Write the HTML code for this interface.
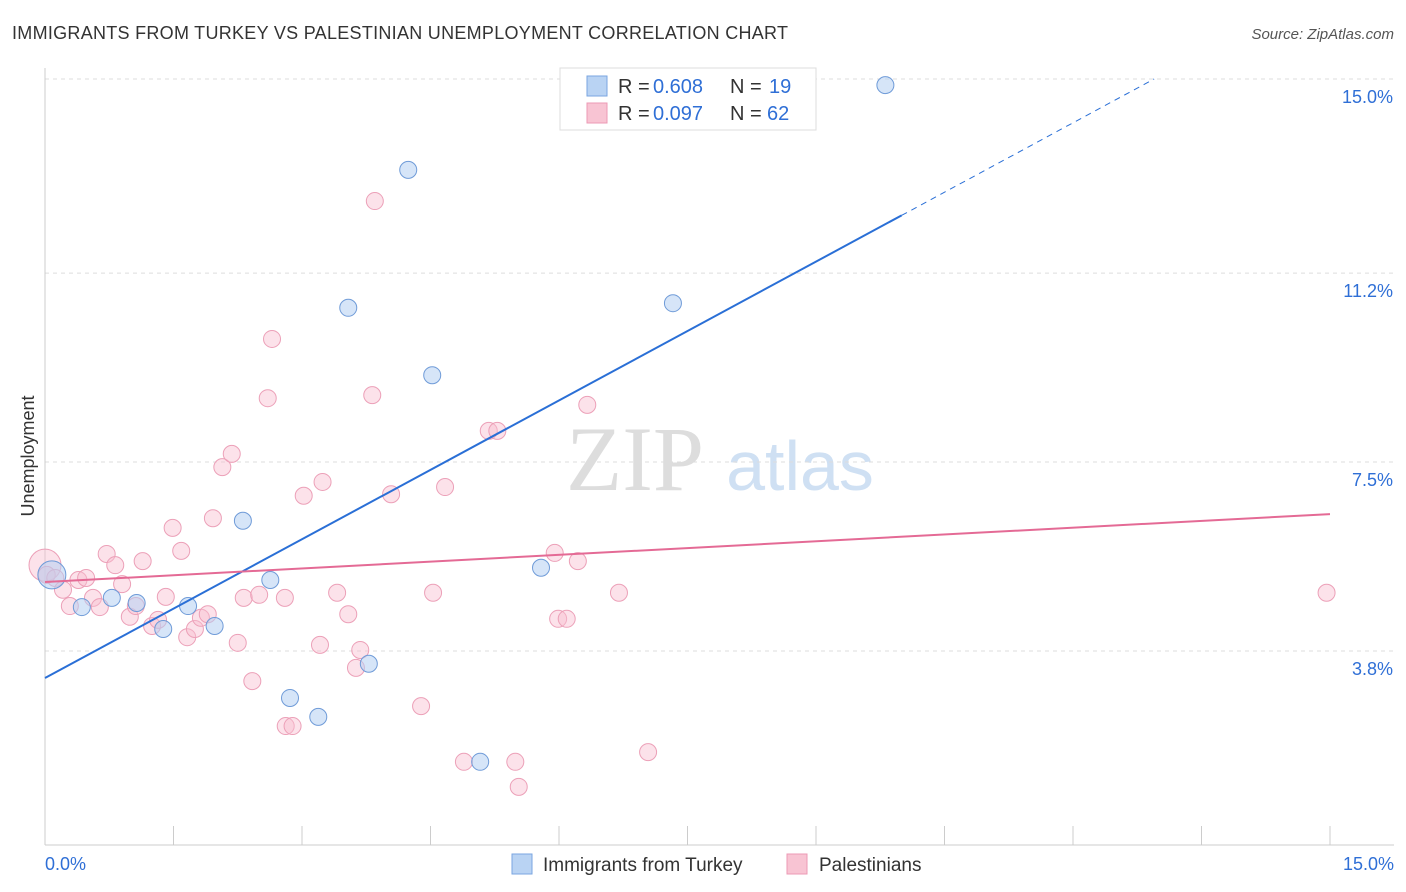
<!DOCTYPE html>
<html><head><meta charset="utf-8"><style>
body{margin:0;background:#fff;font-family:"Liberation Sans",sans-serif}
svg{display:block}
</style></head><body>
<svg id="chart" width="1406" height="892">
<text x="12" y="39" font-size="18" fill="#333" textLength="776">IMMIGRANTS FROM TURKEY VS PALESTINIAN UNEMPLOYMENT CORRELATION CHART</text>
<text x="1394" y="39" font-size="15" fill="#555" font-style="italic" text-anchor="end">Source: ZipAtlas.com</text>
<text x="34" y="456" font-size="18" fill="#333" text-anchor="middle" transform="rotate(-90 34 456)">Unemployment</text>
<g><text x="635" y="490" font-size="92" fill="#ddd" font-family="Liberation Serif,serif" text-anchor="middle">ZIP</text><text x="800" y="490" font-size="70" fill="#cfe0f3" text-anchor="middle">atlas</text></g>
<g id="grid"></g><g id="marks"></g>
<g>
<rect x="560" y="68" width="256" height="62" fill="#fff" stroke="#ddd"/>
<rect x="587" y="76" width="20" height="20" fill="#b9d3f3" stroke="#7aa6e0"/>
<rect x="587" y="103" width="20" height="20" fill="#f8c4d3" stroke="#ec9ab4"/>
<text x="618" y="93" font-size="20" fill="#333">R = </text><text x="653" y="93" font-size="20" fill="#2f6fd6">0.608</text>
<text x="730" y="93" font-size="20" fill="#333">N = </text><text x="769" y="93" font-size="20" fill="#2f6fd6">19</text>
<text x="618" y="120" font-size="20" fill="#333">R = </text><text x="653" y="120" font-size="20" fill="#2f6fd6">0.097</text>
<text x="730" y="120" font-size="20" fill="#333">N = </text><text x="767" y="120" font-size="20" fill="#2f6fd6">62</text>
</g>
<g>
<rect x="512" y="854" width="20" height="20" fill="#b9d3f3" stroke="#7aa6e0"/>
<text x="543" y="871" font-size="19" fill="#333">Immigrants from Turkey</text>
<rect x="787" y="854" width="20" height="20" fill="#f8c4d3" stroke="#ec9ab4"/>
<text x="819" y="871" font-size="19" fill="#333">Palestinians</text>
</g>
</svg>
<script>
const yTicks=[15.0,11.2,7.5,3.8];
const yTickLabels=["15.0%","11.2%","7.5%","3.8%"];
const xTickValues=[0,1.5,3,4.5,6,7.5,9,10.5,12,13.5,15];
const turkeyX=[0.08,0.43,0.78,1.07,1.38,1.67,1.98,2.31,2.63,2.86,3.19,3.54,3.78,4.24,4.52,5.08,5.79,7.33,9.81];
const turkeyY=[5.29,4.66,4.84,4.74,4.23,4.68,4.29,6.35,5.19,2.88,2.51,10.52,3.55,13.22,9.20,1.63,5.43,10.61,14.88];
const palX=[0,0.02,0.12,0.21,0.29,0.39,0.48,0.56,0.64,0.72,0.82,0.90,0.99,1.06,1.14,1.25,1.32,1.41,1.49,1.59,1.66,1.75,1.82,1.90,1.96,2.07,2.18,2.25,2.32,2.42,2.50,2.60,2.65,2.80,2.81,2.89,3.02,3.21,3.24,3.41,3.54,3.63,3.68,3.82,3.85,4.04,4.39,4.53,4.67,4.89,5.18,5.28,5.49,5.53,5.95,5.99,6.09,6.22,6.33,6.70,7.04,7.86,14.96];
const palY=[5.48,5.29,5.23,5.00,4.68,5.19,5.23,4.84,4.66,5.70,5.48,5.11,4.47,4.68,5.56,4.29,4.41,4.86,6.21,5.76,4.07,4.23,4.45,4.52,6.40,7.40,7.66,3.96,4.84,3.21,4.90,8.75,9.91,4.84,2.33,2.33,6.84,3.92,7.11,4.94,4.52,3.47,3.82,8.81,12.61,6.87,2.72,4.94,7.01,1.63,8.11,8.11,1.63,1.14,5.72,4.43,4.43,5.56,8.62,4.94,1.82,14.90,4.94];
const turkeyTrend=[3.27,0.906]; // intercept, slope
const palTrend=[5.15,0.0887];
const NS="http://www.w3.org/2000/svg";
const sx=v=>45+v/15*1285, sy=v=>79+(15-v)*51.07;
function mk(t,a,p){const e=document.createElementNS(NS,t);for(const k in a)e.setAttribute(k,a[k]);p.appendChild(e);return e;}
const grid=document.getElementById('grid'),marks=document.getElementById('marks');
yTicks.forEach((v,i)=>{
 const l=mk('line',{x1:45,x2:1394,y1:sy(v),y2:sy(v),stroke:'#ddd','stroke-dasharray':'4,4'},grid);
 
 
 const t=mk('text',{x:1393,y:sy(v)+24,'font-size':18,fill:'#2f6fd6','text-anchor':'end'},grid);t.textContent=yTickLabels[i];
 
 
});
mk('line',{x1:45,x2:45,y1:68,y2:845,stroke:'#ccc'},grid);
mk('line',{x1:45,x2:1394,y1:845,y2:845,stroke:'#ccc'},grid);
xTickValues.forEach(v=>{const l=mk('line',{x1:sx(v),x2:sx(v),y1:826,y2:845,stroke:'#ccc'},grid);
 
 });
let t=mk('text',{x:45,y:870,'font-size':18,fill:'#2f6fd6'},grid);t.textContent="0.0%";


t=mk('text',{x:1394,y:870,'font-size':18,fill:'#2f6fd6','text-anchor':'end'},grid);t.textContent="15.0%";


palX.forEach((x,i)=>{const c=mk('circle',{cx:sx(x),cy:sy(palY[i]),r:i==0?16:8.5,fill:'rgba(248,190,208,0.45)',stroke:'#eca0b8','stroke-width':1},marks);
 
 });
turkeyX.forEach((x,i)=>{const c=mk('circle',{cx:sx(x),cy:sy(turkeyY[i]),r:i==0?14:8.5,fill:'rgba(180,208,243,0.55)',stroke:'#6f9bd8','stroke-width':1},marks);
 
 });
const f=(tr,x)=>tr[0]+tr[1]*x;
const xs=10.0;
let ln=mk('line',{x1:sx(0),y1:sy(f(turkeyTrend,0)),x2:sx(xs),y2:sy(f(turkeyTrend,xs)),stroke:'#2a6fd6','stroke-width':2},marks);


const xe=(15-turkeyTrend[0])/turkeyTrend[1];
ln=mk('line',{x1:sx(xs),y1:sy(f(turkeyTrend,xs)),x2:sx(xe),y2:sy(15),stroke:'#2a6fd6','stroke-width':1,'stroke-dasharray':'6,5'},marks);


ln=mk('line',{x1:sx(0),y1:sy(f(palTrend,0)),x2:sx(15),y2:sy(f(palTrend,15)),stroke:'#e46a95','stroke-width':2},marks);


</script>
</body></html>
